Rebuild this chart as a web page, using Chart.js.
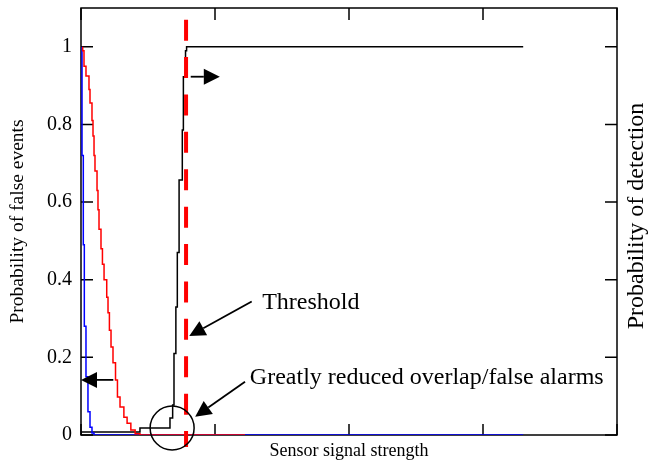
<!DOCTYPE html>
<html>
<head>
<meta charset="utf-8">
<script src="https://cdn.jsdelivr.net/npm/chart.js@4/dist/chart.umd.min.js"></script>
<style>
  html, body { margin: 0; padding: 0; background: #fff; }
  #wrap { width: 656px; height: 460px; }
</style>
</head>
<body>
<div id="wrap"><canvas id="chart" width="656" height="460"></canvas></div>
<script>
// x positions where each step lands, and the value after the step
const falseWideX = [0.32, 0.56, 0.93, 1.49, 1.68, 2.05, 2.24, 2.43, 2.61, 2.99, 3.17, 3.36, 3.73, 4.0, 4.3, 4.8, 5.04, 5.3, 5.6, 5.97, 6.44, 6.8, 7.28, 8.0, 8.6, 9.3, 10.1, 11.0, 11.9, 30.6];
const falseWideY = [1, 0.99, 0.95, 0.925, 0.89, 0.855, 0.81, 0.77, 0.72, 0.68, 0.63, 0.58, 0.53, 0.48, 0.44, 0.40, 0.355, 0.315, 0.27, 0.227, 0.186, 0.142, 0.098, 0.072, 0.046, 0.03, 0.013, 0.003, 0, 0];

const falseNarrowX = [0.19, 0.19, 0.43, 0.62, 0.93, 1.3, 1.68, 2.05, 2.43, 2.8, 82.5];
const falseNarrowY = [1, 0.92, 0.72, 0.49, 0.28, 0.15, 0.06, 0.02, 0.005, 0, 0];

const detectX = [0, 11, 16.6, 17.1, 17.35, 17.7, 17.97, 18.3, 18.9, 19.1, 19.5, 19.7, 20.1, 82.5];
const detectY = [0, 0.008, 0.018, 0.044, 0.077, 0.21, 0.33, 0.47, 0.657, 0.786, 0.923, 0.99, 1, 1];

const thresholdX = 19.6;
const thresholdSpan = [1.07, -0.031];

const xTicks = [0, 25, 50, 75, 100];
const yTicks = [0, 0.2, 0.4, 0.6, 0.8, 1];
const yTickLabels = ["0", "0.2", "0.4", "0.6", "0.8", "1"];

const SERIF = "'Liberation Serif', 'Times New Roman', serif";

// annotations in data units
const notes = {
  arrows: [
    { from: [20.47, 0.923], to: [25.9, 0.923] },
    { from: [6.03, 0.142], to: [0, 0.142] },
    { from: [31.85, 0.344], to: [20.2, 0.255] },
    { from: [30.6, 0.137], to: [21.3, 0.047] }
  ],
  labels: [
    { text: "Threshold", at: [33.8, 0.325] },
    { text: "Greatly reduced overlap/false alarms", at: [31.5, 0.131] }
  ],
  circle: { at: [17.0, 0.018], r: 22 }
};

function pts(xs, ys) { return xs.map((x, i) => ({ x: x, y: ys[i] })); }

const framePlugin = {
  id: "frame",
  beforeDatasetsDraw(chart) {
    const { ctx, chartArea: a, scales: { x, y } } = chart;
    ctx.save();
    ctx.strokeStyle = "#000";
    ctx.lineWidth = 1.5;
    ctx.strokeRect(a.left, a.top, a.right - a.left, a.bottom - a.top);
    ctx.beginPath();
    yTicks.forEach(v => {
      const py = y.getPixelForValue(v);
      ctx.moveTo(a.left, py); ctx.lineTo(a.left + 12, py);
      ctx.moveTo(a.right, py); ctx.lineTo(a.right - 12, py);
    });
    xTicks.forEach(v => {
      const px = x.getPixelForValue(v);
      ctx.moveTo(px, a.top); ctx.lineTo(px, a.top + 12);
      ctx.moveTo(px, a.bottom); ctx.lineTo(px, a.bottom - 11);
    });
    ctx.stroke();
    ctx.restore();
  },
  afterDatasetsDraw(chart) {
    const { ctx, scales: { x, y } } = chart;
    const P = p => [x.getPixelForValue(p[0]), y.getPixelForValue(p[1])];
    ctx.save();
    ctx.strokeStyle = "#000";
    ctx.fillStyle = "#000";
    ctx.lineWidth = 1.8;
    notes.arrows.forEach(ar => {
      const [x0, y0] = P(ar.from), [x1, y1] = P(ar.to);
      const ang = Math.atan2(y1 - y0, x1 - x0);
      const len = 16, half = 8;
      const bx = x1 - len * Math.cos(ang), by = y1 - len * Math.sin(ang);
      ctx.beginPath(); ctx.moveTo(x0, y0); ctx.lineTo(bx, by); ctx.stroke();
      ctx.beginPath();
      ctx.moveTo(x1, y1);
      ctx.lineTo(bx + half * Math.sin(ang), by - half * Math.cos(ang));
      ctx.lineTo(bx - half * Math.sin(ang), by + half * Math.cos(ang));
      ctx.closePath(); ctx.fill();
    });
    const [cx, cy] = P(notes.circle.at);
    ctx.lineWidth = 1.5;
    ctx.beginPath(); ctx.arc(cx, cy, notes.circle.r, 0, Math.PI * 2); ctx.stroke();

    ctx.font = "24px " + SERIF;
    ctx.textAlign = "left";
    ctx.textBaseline = "alphabetic";
    notes.labels.forEach(l => { const [lx, ly] = P(l.at); ctx.fillText(l.text, lx, ly); });

    // right-hand axis title reads bottom to top
    ctx.translate(637, 216);
    ctx.rotate(-Math.PI / 2);
    ctx.textAlign = "center";
    ctx.textBaseline = "middle";
    ctx.fillText("Probability of detection", 0, 0);
    ctx.restore();
  }
};

Chart.defaults.color = "#000";
Chart.defaults.font.family = SERIF;

new Chart(document.getElementById("chart").getContext("2d"), {
  type: "line",
  data: {
    datasets: [
      {
        label: "Threshold",
        data: [{ x: thresholdX, y: thresholdSpan[0] }, { x: thresholdX, y: thresholdSpan[1] }],
        borderColor: "#ff0000",
        borderWidth: 4,
        borderDash: [21, 16.4],
        borderCapStyle: "butt",
        pointRadius: 0,
        clip: false
      },
      {
        label: "False events (wide)",
        data: pts(falseWideX, falseWideY),
        borderColor: "#ff0000",
        borderWidth: 1.5,
        pointRadius: 0,
        stepped: "after"
      },
      {
        label: "False events (narrow)",
        data: pts(falseNarrowX, falseNarrowY),
        borderColor: "#0000ff",
        borderWidth: 1.5,
        pointRadius: 0,
        stepped: "after"
      },
      {
        label: "Detection",
        data: pts(detectX, detectY),
        borderColor: "#000000",
        borderWidth: 1.5,
        pointRadius: 0,
        stepped: "after"
      }
    ]
  },
  options: {
    responsive: false,
    animation: false,
    events: [],
    layout: { padding: { top: 8, right: 39, left: 0, bottom: 0 } },
    plugins: { legend: { display: false }, tooltip: { enabled: false } },
    scales: {
      x: {
        type: "linear",
        min: 0,
        max: 100,
        ticks: { display: false },
        grid: { display: false, drawTicks: false },
        border: { display: false },
        title: {
          display: true,
          text: "Sensor signal strength",
          font: { size: 18, family: SERIF, lineHeight: 1 },
          padding: 0
        },
        afterFit(s) { s.height = 25; s.paddingLeft = 0; s.paddingRight = 0; }
      },
      y: {
        min: 0,
        max: 1.1,
        ticks: {
          stepSize: 0.2,
          includeBounds: false,
          padding: 9,
          font: { size: 20, family: SERIF },
          callback: (v, i) => yTickLabels[i]
        },
        grid: { display: false, drawTicks: false },
        border: { display: false },
        title: {
          display: true,
          text: "Probability of false events",
          font: { size: 19.5, family: SERIF, lineHeight: 1 },
          padding: { top: 8, bottom: 0 }
        },
        afterFit(s) { s.width = 81; s.paddingTop = 0; s.paddingBottom = 0; }
      }
    }
  },
  plugins: [framePlugin]
});
</script>
</body>
</html>
